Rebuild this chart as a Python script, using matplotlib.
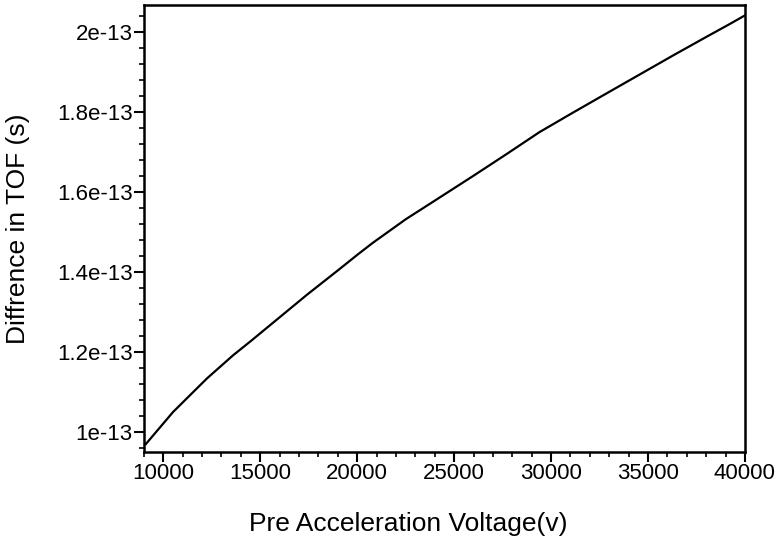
import numpy as np
import matplotlib
matplotlib.use("Agg")
import matplotlib.pyplot as plt
from matplotlib.ticker import MultipleLocator, FuncFormatter

# values
voltage = [9100, 10500, 12250, 13600, 14500, 16000, 17400, 19100, 20000,
           20800, 22500, 24300, 26000, 27700, 29400, 31100, 32900, 34600,
           36300, 38000, 39200, 40000]
tof_diff = [0.970, 1.050, 1.134, 1.192, 1.227, 1.287, 1.343, 1.408, 1.443,
            1.473, 1.532, 1.588, 1.641, 1.695, 1.750, 1.798, 1.848, 1.895,
            1.942, 1.988, 2.020, 2.042]
tof_diff = [v * 1e-13 for v in tof_diff]

x_ticks = [10000, 15000, 20000, 25000, 30000, 35000, 40000]
y_ticks = [1.0e-13, 1.2e-13, 1.4e-13, 1.6e-13, 1.8e-13, 2.0e-13]

plt.rcParams['font.family'] = ['Liberation Sans', 'DejaVu Sans']

fig = plt.figure(figsize=(7.78, 5.56), dpi=100)
ax = fig.add_axes([0.185, 0.187, 0.7725, 0.804])

ax.plot(voltage, tof_diff, color='black', linewidth=1.6)

ax.set_xlim(9000, 40000)
ax.set_ylim(0.950e-13, 2.068e-13)

ax.set_xticks(x_ticks)
ax.set_yticks(y_ticks)
ax.xaxis.set_minor_locator(MultipleLocator(1000))
ax.yaxis.set_minor_locator(MultipleLocator(0.04e-13))


def fmt(v, pos):
    return f"{v / 1e-13:g}e-13"


ax.yaxis.set_major_formatter(FuncFormatter(fmt))

ax.tick_params(which='major', direction='out', length=7, width=1.5,
               labelsize=16, pad=1)
ax.tick_params(which='minor', direction='out', length=3.5, width=1.2)
for sp in ax.spines.values():
    sp.set_linewidth(1.8)

ax.set_xlabel('Pre Acceleration Voltage(v)', fontsize=19)
ax.xaxis.set_label_coords(0.44, -0.135)
ax.set_ylabel('Diffrence in TOF (s)', fontsize=19)
ax.yaxis.set_label_coords(-0.19, 0.50)

fig.savefig('out.png', dpi=100)
